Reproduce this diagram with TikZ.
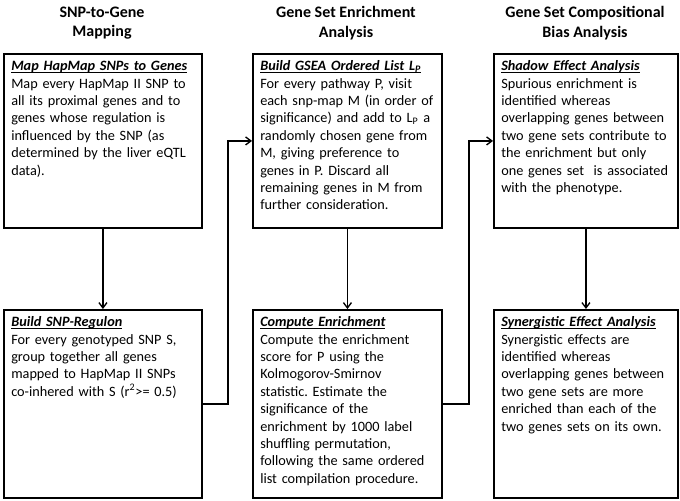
\documentclass[tikz,border=0pt]{standalone}
\usepackage{fontspec}
\setmainfont{Carlito}
\usepackage{tikz}
\usetikzlibrary{arrows.meta}
\frenchspacing
\newsavebox{\titlebox}
\newcommand{\boxtitle}[1]{\sbox{\titlebox}{\bfseries\itshape #1}\rlap{\usebox{\titlebox}}\rule[-1.6pt]{\wd\titlebox}{0.8pt}}
\tikzset{
	stagebox/.style={draw=black,line width=1.4pt,anchor=north west,align=left,inner xsep=5.5pt,inner ysep=4pt,text height=8.5pt,font=\fontsize{10.7}{13.05}\selectfont},
	headstyle/.style={align=center,font=\fontsize{12}{14.6}\selectfont\bfseries},
	linkstyle/.style={line width=1pt,-{Straight Barb[length=4pt,width=6pt]}}
}

\begin{document}
\begin{tikzpicture}[x=0.75pt,y=-0.75pt]
	\useasboundingbox (0,0) rectangle (680,500);
	\node[headstyle] (col1) at (102,23) {SNP-to-Gene\\Mapping};
	\node[headstyle] (col2) at (346,23) {Gene Set Enrichment\\Analysis};
	\node[headstyle] (col3) at (585,23) {Gene Set Compositional\\Bias Analysis};
	\node[stagebox,text width=137.5pt,text depth=114pt] (map) at (3,53) {\boxtitle{Map HapMap SNPs to Genes}\\Map every HapMap II SNP to\\all its proximal genes and to\\genes whose regulation is\\influenced by the SNP (as\\determined by the liver eQTL\\data).};
	\node[stagebox,text width=137.5pt,text depth=124.5pt] (regulon) at (3,309) {\boxtitle{Build SNP-Regulon}\\For every genotyped SNP S,\\group together all genes\\mapped to HapMap II SNPs\\co-inhered with S (r\textsuperscript{2}>= 0.5)};
	\node[stagebox,text width=130.75pt,text depth=114pt] (gsea) at (252,53) {\boxtitle{Build GSEA Ordered List L\textsubscript{P}}\\For every pathway P, visit\\each snp-map M (in order of\\significance) and add to L\textsubscript{P} a\\randomly chosen gene from\\M, giving preference to\\genes in P. Discard all\\remaining genes in M from\\further consideration.};
	\node[stagebox,text width=130.75pt,text depth=124.5pt] (enrich) at (252,309) {\boxtitle{Compute Enrichment}\\Compute the enrichment\\score for P using the\\Kolmogorov-Smirnov\\statistic. Estimate the\\significance of the\\enrichment by 1000 label\\shuffling permutation,\\following the same ordered\\list compilation procedure.};
	\node[stagebox,text width=127pt,text depth=114pt] (shadow) at (493,53) {\boxtitle{Shadow Effect Analysis}\\Spurious enrichment is\\identified whereas\\overlapping genes between\\two gene sets contribute to\\the enrichment but only\\one genes set~ is associated\\with the phenotype.};
	\node[stagebox,text width=127pt,text depth=124.5pt] (synergy) at (493,309) {\boxtitle{Synergistic Effect Analysis}\\Synergistic effects are\\identified whereas\\overlapping genes between\\two gene sets are more\\enriched than each of the\\two genes sets on its own.};
	\draw[linkstyle] (map)--(regulon);
	\draw[linkstyle] (gsea)--(enrich);
	\draw[linkstyle] (shadow)--(synergy);
	\draw[linkstyle] (regulon.east)--++(25,0)|-(gsea.west);
	\draw[linkstyle] (enrich.east)--++(26,0)|-(shadow.west);
\end{tikzpicture}
\end{document}
